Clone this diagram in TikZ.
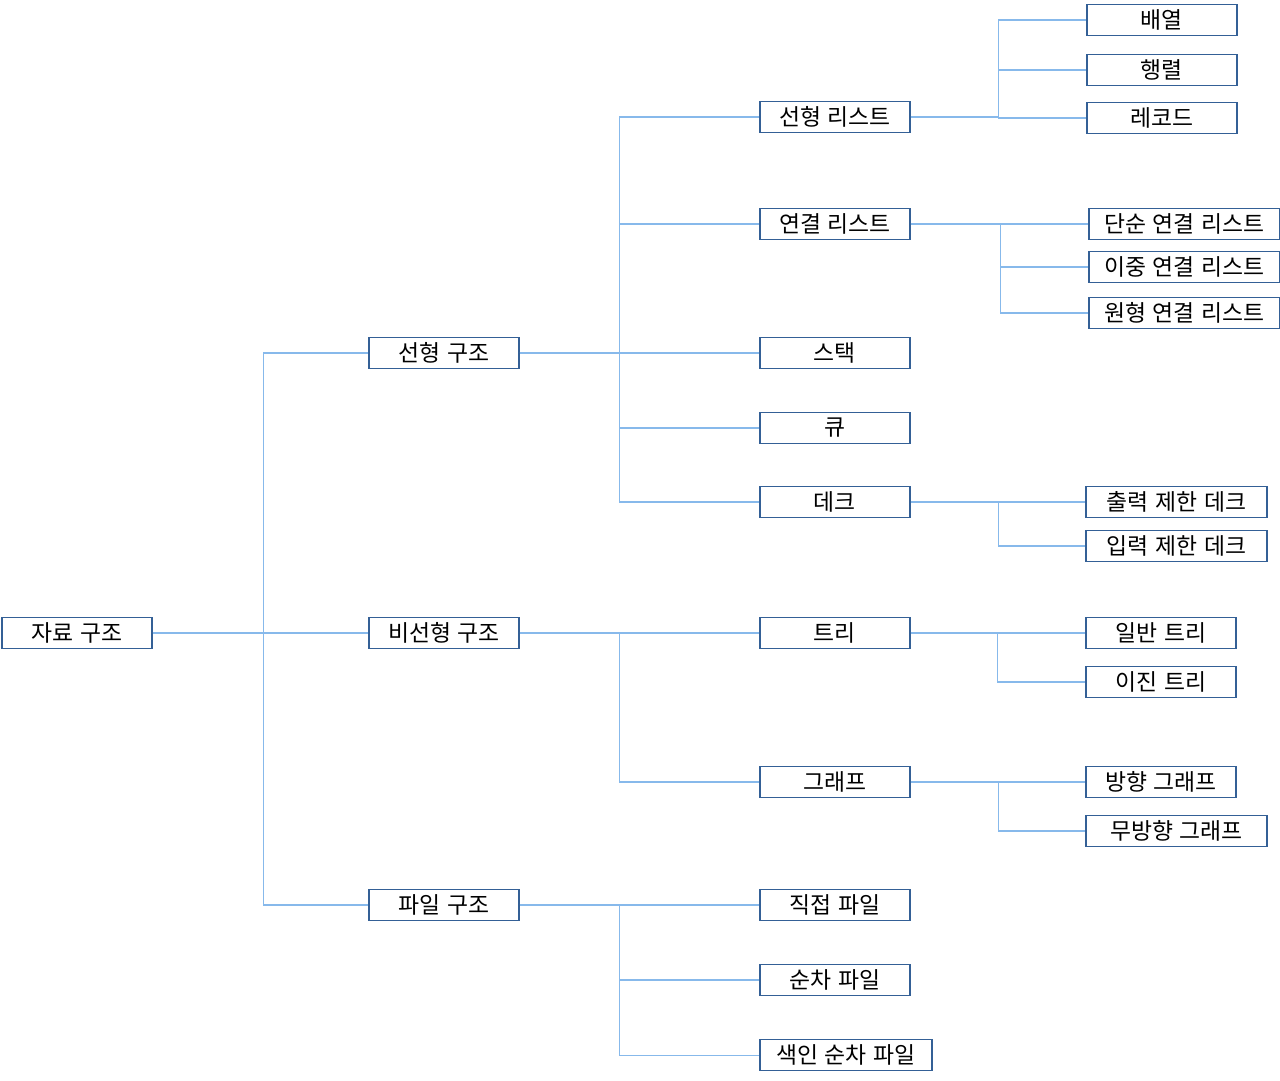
\documentclass[tikz,border=0pt]{standalone}
\usepackage{fontspec}
\setmainfont[WordSpace=1.3]{Noto Sans CJK KR}
\usepackage{tikz}
\usetikzlibrary{positioning}
\definecolor{boxline}{RGB}{52,96,150}
\definecolor{linkline}{RGB}{135,185,235}
\tikzset{
    box/.style={draw=boxline, line width=1.1pt, fill=white, anchor=west,
        minimum width=3cm, minimum height=0.62cm, inner sep=0pt,
        font=\fontsize{13}{15}\selectfont},
    link/.style={draw=linkline, line width=0.6pt}
}

\begin{document}
\begin{tikzpicture}[x=0.02cm,y=-0.02cm]
     \useasboundingbox (0,0) rectangle (1280,1080);
     % root and first level
     \node[box] (root) at (1,633) {자료 구조};
     \node[box] (lin) at (368,353) {선형 구조};
     \node[box] (nonlin) at (368,633) {비선형 구조};
     \node[box] (file) at (368,905) {파일 구조};
     % second level
     \node[box] (slist) at (759,117) {선형 리스트};
     \node[box] (llist) at (759,224) {연결 리스트};
     \node[box] (stack) at (759,353) {스택};
     \node[box] (queue) at (759,428) {큐};
     \node[box] (deque) at (759,502) {데크};
     \node[box] (tree) at (759,633) {트리};
     \node[box] (graph) at (759,782) {그래프};
     \node[box] (direct) at (759,905) {직접 파일};
     \node[box] (seqf) at (759,980) {순차 파일};
     \node[box,minimum width=3.44cm] (idxseq) at (759,1055) {색인 순차 파일};
     % third level
     \node[box] (array) at (1086,20) {배열};
     \node[box] (matrix) at (1086,70) {행렬};
     \node[box] (record) at (1086,118) {레코드};
     \node[box,minimum width=3.82cm] (single) at (1088,224) {단순 연결 리스트};
     \node[box,minimum width=3.82cm] (double) at (1088,267) {이중 연결 리스트};
     \node[box,minimum width=3.82cm] (circular) at (1088,313) {원형 연결 리스트};
     \node[box,minimum width=3.62cm] (outres) at (1085,502) {출력 제한 데크};
     \node[box,minimum width=3.62cm] (inres) at (1085,546) {입력 제한 데크};
     \node[box] (gentree) at (1085,633) {일반 트리};
     \node[box] (bintree) at (1085,682) {이진 트리};
     \node[box] (digraph) at (1085,782) {방향 그래프};
     \node[box,minimum width=3.62cm] (undigraph) at (1085,831) {무방향 그래프};
     % connectors
     \foreach \c in {lin,nonlin,file} {
          \draw[link] (root.east) -- ++(111,0) |- (\c.west);
     }
     \foreach \c in {slist,llist,stack,queue,deque} {
          \draw[link] (lin.east) -- ++(100,0) |- (\c.west);
     }
     \foreach \c in {tree,graph} {
          \draw[link] (nonlin.east) -- ++(100,0) |- (\c.west);
     }
     \foreach \c in {direct,seqf,idxseq} {
          \draw[link] (file.east) -- ++(100,0) |- (\c.west);
     }
     \foreach \c in {array,matrix,record} {
          \draw[link] (slist.east) -- ++(88,0) |- (\c.west);
     }
     \foreach \c in {single,double,circular} {
          \draw[link] (llist.east) -- ++(90,0) |- (\c.west);
     }
     \foreach \c in {outres,inres} {
          \draw[link] (deque.east) -- ++(88,0) |- (\c.west);
     }
     \foreach \c in {gentree,bintree} {
          \draw[link] (tree.east) -- ++(87,0) |- (\c.west);
     }
     \foreach \c in {digraph,undigraph} {
          \draw[link] (graph.east) -- ++(88,0) |- (\c.west);
     }
\end{tikzpicture}
\end{document}
